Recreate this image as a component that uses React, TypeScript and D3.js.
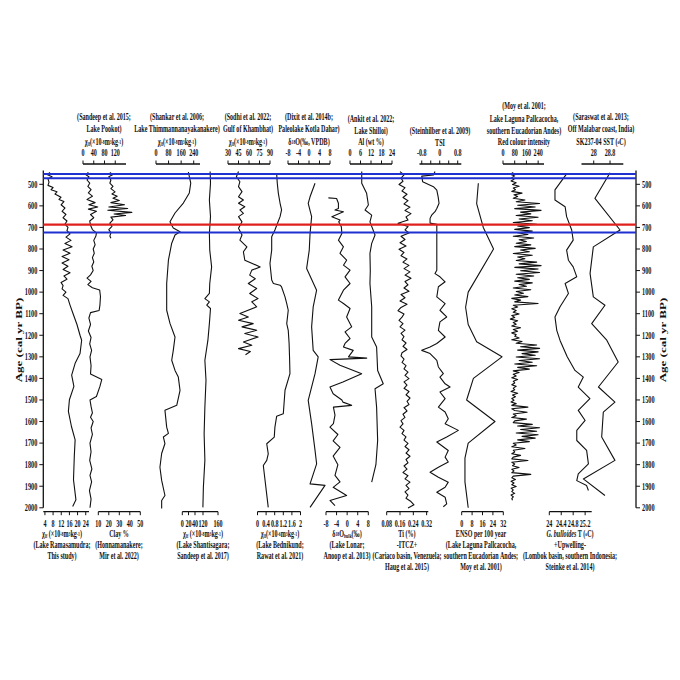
import React from 'react';
import * as d3 from 'd3';

const FONT = '"Liberation Serif", "Times New Roman", Times, serif';

type Pt = [number, number]; // [age cal yr BP, value]

const ageTicks = [500, 600, 700, 800, 900, 1000, 1100, 1200, 1300, 1400, 1500, 1600, 1700, 1800, 1900, 2000];
const blueEvents = [452, 472, 723];
const redEvents = [687];

// Lake Ramasamudra chi-lf (this study)
const ramasamudra: Pt[] = [
  [445, 6.5], [455, 5.0], [465, 7.5], [475, 5.5], [490, 6.0], [505, 5.5], [515, 8.0], [525, 7.0], [535, 9.9],
  [545, 8.9], [560, 11.9], [570, 10.9], [580, 13.3], [595, 11.9], [610, 13.8], [625, 12.4], [640, 14.3],
  [655, 12.9], [670, 14.8], [685, 13.8], [700, 15.3], [715, 14.8], [730, 16.3], [745, 14.3], [760, 16.8],
  [775, 13.8], [790, 17.3], [805, 12.9], [820, 16.3], [835, 12.4], [850, 15.8], [865, 12.4], [880, 15.3],
  [895, 12.9], [910, 16.3], [925, 13.3], [940, 14.8], [955, 11.9], [970, 12.9], [985, 12.4], [1000, 14.3],
  [1015, 12.9], [1030, 15.3], [1060, 16.3], [1100, 17.8], [1150, 19.7], [1200, 21.2], [1223, 22], [1285, 21.2],
  [1330, 18.8], [1385, 17.1], [1437, 18.2], [1499, 16], [1553, 15.5], [1623, 17], [1685, 18.8], [1760, 18.4],
  [1870, 18], [1963, 19.2], [1994, 17.6],
];

// Lake Pookot chi-lf (Sandeep et al. 2015)
const pookot: Pt[] = [
  [445, 20], [455, 10], [465, 22], [480, 15], [495, 25], [510, 18], [525, 30], [540, 20], [555, 35], [570, 15],
  [585, 45], [595, 22], [605, 55], [615, 20], [625, 50], [640, 28], [655, 40], [670, 25], [690, 28], [710, 35],
  [725, 50], [740, 48], [760, 40], [780, 45], [800, 38], [820, 42], [840, 35], [860, 40], [880, 33], [900, 38],
  [920, 28], [935, 15], [950, 30], [965, 18], [980, 35], [990, 62], [1020, 65], [1060, 63], [1085, 60],
  [1095, 28], [1120, 22], [1150, 28], [1180, 20], [1210, 30], [1240, 25], [1270, 32], [1300, 26], [1340, 30],
  [1380, 28], [1405, 70], [1437, 63], [1484, 50], [1500, 26], [1530, 30], [1560, 35], [1580, 28], [1600, 38],
  [1630, 30], [1660, 35], [1700, 26], [1740, 30], [1780, 25], [1820, 33], [1850, 26], [1880, 32], [1920, 24],
  [1960, 30], [2000, 26],
];

// Honnamanakere clay % (Mir et al. 2022)
const clay: Pt[] = [
  [445, 21], [455, 24], [465, 20], [480, 22], [495, 21], [510, 24], [520, 22], [535, 26], [545, 23], [555, 28],
  [565, 24], [575, 30], [585, 22], [595, 35], [605, 20], [612, 38], [620, 19], [630, 42], [638, 25], [645, 36],
  [652, 22], [665, 24], [680, 21], [695, 23], [710, 20], [725, 22], [740, 21], [750, 22],
];

// Lake Thimmannanayakanakere chi-lf (Shankar et al. 2006)
const shankar: Pt[] = [
  [443, 206], [495, 221], [540, 212], [587, 174], [633, 121], [674, 89], [690, 100], [703, 110], [720, 153],
  [735, 121], [773, 100], [852, 79], [960, 68], [1084, 68], [1145, 89], [1208, 121], [1270, 110], [1316, 100],
  [1363, 121], [1394, 142], [1456, 153], [1525, 132], [1548, 57], [1626, 68], [1655, 79], [1672, 47],
  [1702, 57], [1748, 36], [1812, 25], [1873, 36], [1943, 57], [1966, 36], [2003, 36],
];

// Lake Shantisagara chi-lf (Sandeep et al. 2017)
const shantisagara: Pt[] = [
  [441, 139], [495, 140], [573, 137], [650, 140], [728, 137], [805, 138], [883, 143], [960, 138], [1006, 137],
  [1030, 125], [1045, 137], [1060, 130], [1076, 140], [1146, 137], [1224, 133], [1316, 125], [1409, 128],
  [1533, 125], [1657, 123], [1780, 125], [1905, 121], [1998, 119],
];

// Gulf of Khambhat chi-lf (Sodhi et al. 2022)
const sodhi: Pt[] = [
  [441, 45], [465, 42], [488, 47], [511, 45], [534, 50], [558, 45], [573, 52], [588, 45], [604, 54], [619, 47],
  [635, 52], [650, 45], [674, 50], [704, 45], [735, 50], [759, 47], [790, 57], [813, 52], [852, 54], [883, 76],
  [898, 64], [921, 61], [938, 69], [960, 59], [983, 71], [1006, 61], [1030, 73], [1045, 64], [1068, 71],
  [1099, 47], [1115, 59], [1130, 45], [1146, 66], [1161, 50], [1177, 71], [1192, 54], [1208, 73], [1231, 52],
  [1246, 64], [1262, 45], [1275, 62], [1290, 55],
];

// Lake Bednikund chi-lf (Rawat et al. 2021)
const bednikund: Pt[] = [
  [449, 0.89], [495, 0.92], [542, 0.97], [588, 1.05], [619, 1.12], [650, 1.05], [712, 0.81], [743, 0.66],
  [805, 0.66], [867, 0.58], [944, 0.66], [960, 0.74], [968, 1.05], [976, 1.12], [1022, 1.28], [1053, 1.36],
  [1084, 1.43], [1146, 1.36], [1177, 1.43], [1238, 1.47], [1300, 1.49], [1378, 1.51], [1455, 1.28],
  [1564, 1.2], [1576, 0.89], [1626, 0.81], [1672, 0.78], [1703, 0.43], [1750, 0.5], [1780, 0.43],
  [1804, 0.27], [1998, 0.5],
];

// Paleolake Kotla Dahar d18O (Dixit et al. 2014b)
const dixit: Pt[] = [
  [495, 2.3], [558, 0.4], [588, -0.3], [650, 1.0], [728, 0.4], [805, 0.1], [890, -0.9], [991, 2.9], [1068, 1.6],
  [1161, 1.0], [1270, 1.6], [1300, 3.5], [1378, 2.3], [1502, -0.3], [1610, 1.0], [1734, 2.3], [1796, 2.9],
  [1889, 0.4], [1896, 6.1], [1998, 0.4],
];

// Lake Lonar d18O bulk (Anoop et al. 2013)
const lonar: Pt[] = [
  [563, -7.1], [566, -4.0], [588, -3.3], [612, -3.3], [619, -4.6], [627, -1.4], [650, -5.8], [666, -2.7],
  [674, -3.2], [697, -2.2], [728, -2.0], [759, -3.3], [790, -1.4], [820, -2.7], [852, -0.2], [875, -1.4],
  [898, 1.1], [929, -0.8], [960, 1.1], [991, -1.4], [1037, -3.3], [1053, -1.4], [1076, 1.1], [1115, -0.2],
  [1161, 1.7], [1184, -0.8], [1215, 1.1], [1238, -0.8], [1254, -1.4], [1270, 2.3], [1300, 0.5], [1306, 7.4],
  [1313, -6.5], [1339, -2.7], [1378, 5.5], [1417, -1.6], [1440, -6.5], [1471, -5.3], [1500, -2.0], [1510, -1.6],
  [1525, 1.7], [1533, -5.2], [1570, -4.6], [1610, -5.2], [1626, -6.5], [1660, -3.5], [1690, -5.3], [1720, -2.7],
  [1760, -5.3], [1800, -3.5], [1850, -4.6], [1880, -2.7], [1905, -5.3], [1943, -0.2], [1966, -6.5], [1990, -4.6],
];

// Lake Shilloi Al wt% (Ankit et al. 2022)
const ankit: Pt[] = [
  [441, 6.7], [495, 6.7], [542, 9.5], [596, 10.5], [619, 8.6], [643, 12.4], [674, 11.4], [735, 14.3], [774, 12.4],
  [820, 11.4], [900, 11.6], [960, 11.4], [1068, 12.4], [1208, 12.4], [1254, 15.2], [1363, 15.8], [1425, 19.0],
  [1448, 14.3], [1533, 15.2], [1688, 15.8], [1800, 14.8], [1881, 12.4],
];

// Cariaco basin Ti % (Haug et al.), evenly sampled
const cariacoStart = 441;
const cariacoStep = 15;
const cariacoTi = [
  0.16, 0.184, 0.166, 0.178, 0.154, 0.19, 0.172, 0.202, 0.178, 0.208, 0.184, 0.22, 0.19, 0.226, 0.196, 0.208,
  0.148, 0.208, 0.19, 0.214, 0.166, 0.19, 0.16, 0.196, 0.154, 0.184, 0.166, 0.202, 0.178, 0.214, 0.184, 0.22,
  0.19, 0.226, 0.19, 0.208, 0.184, 0.214, 0.166, 0.19, 0.16, 0.202, 0.166, 0.148, 0.184, 0.172, 0.154, 0.178,
  0.16, 0.19, 0.166, 0.184, 0.172, 0.196, 0.178, 0.202, 0.172, 0.166, 0.184, 0.172, 0.196, 0.184, 0.208, 0.19,
  0.214, 0.184, 0.202, 0.184, 0.214, 0.196, 0.22, 0.202, 0.214, 0.184, 0.202, 0.178, 0.19, 0.166, 0.178, 0.16,
  0.184, 0.172, 0.196, 0.184, 0.208, 0.19, 0.214, 0.196, 0.22, 0.196, 0.208, 0.184, 0.202, 0.178, 0.208, 0.19,
  0.22, 0.196, 0.214, 0.19, 0.208, 0.196, 0.226, 0.244, 0.208,
];

// TSI (Steinhilber et al. 2009)
const tsi: Pt[] = [
  [441, -0.21], [457, -0.28], [462, -0.8], [488, -0.76], [511, -0.28], [527, -0.13], [558, -0.07], [588, -0.03],
  [612, -0.13], [627, -0.21], [643, -0.36], [658, -0.43], [680, -0.43], [686, -0.13], [697, -0.13], [898, -0.13],
  [914, -0.21], [929, 0.01], [952, 0.24], [975, -0.06], [1022, -0.13], [1053, 0.24], [1084, 0.01], [1115, 0.31],
  [1138, 0.01], [1177, -0.06], [1208, 0.24], [1238, -0.13], [1254, -0.43], [1270, -0.8], [1285, -0.43],
  [1316, -0.13], [1347, -0.06], [1378, 0.16], [1394, 0.01], [1425, 0.24], [1440, 0.46], [1463, 0.01],
  [1494, 0.24], [1533, -0.06], [1556, 0.24], [1587, 0.38], [1610, 0.24], [1641, 0.83], [1672, 0.31],
  [1695, -0.13], [1734, 0.38], [1765, 0.24], [1788, 0.38], [1812, -0.06], [1835, -0.43], [1858, -0.06],
  [1881, 0.38], [1905, 0.24], [1928, -0.13], [1951, 0.24], [1982, 0.31], [1995, 0.16],
];

// ENSO events per 100 yr (Moy et al. 2001)
const enso: Pt[] = [
  [495, 12.8], [590, 11.5], [700, 16.6], [800, 24.5], [1000, 5], [1070, 3], [1150, 5], [1230, 11.5], [1300, 31],
  [1400, 9], [1500, 3.8], [1600, 25.6], [1700, 5], [1770, 2.5], [1880, 2.5], [2000, 5],
];

// Laguna Pallcacocha red colour intensity (Moy et al. 2001), evenly sampled
const moyStart = 445;
const moyStep = 8;
const moyRed = [
  70, 50, 80, 60, 75, 55, 90, 65, 110, 70, 85, 60, 130, 75, 100, 70, 150,
  90, 250, 100, 220, 80, 260, 120, 190, 90, 240, 110, 200, 70, 230, 100, 180,
  80, 200, 100, 170, 70, 210, 110, 160, 90, 190, 80, 220, 120, 180, 70, 200, 100, 150, 90, 230, 110, 260,
  80, 240, 120, 250, 90, 210, 100, 180, 80, 200, 110, 160, 70, 190, 90, 140, 80, 170, 60, 120,
  80, 240, 70, 100, 60, 90, 70, 110, 60, 80, 50, 100, 70, 90, 60, 120, 70, 100, 60, 90, 80, 110, 60, 130,
  90, 230, 120, 250, 100, 240, 130, 220, 90, 250, 110, 200, 80, 230, 100, 180, 70,
  110, 70, 90, 60, 100, 70, 80, 60, 90, 70, 80, 55, 100, 65, 85, 60, 75, 55, 90, 60,
  170, 60, 80, 165, 70, 90, 60, 160, 80, 70,
  200, 100, 250, 120, 230, 90, 240, 130, 220, 100, 180,
  70, 90, 60, 150, 70, 80, 60, 120, 70, 60, 170, 60, 80, 65, 110, 60, 75, 60, 190,
  70, 60, 85, 55, 75, 60, 90, 55, 70, 60, 80, 55, 70, 60, 65,
];

// Lombok basin G. bulloides temperature (Steinke et al. 2014)
const lombok: Pt[] = [
  [452, 24.58], [526, 24.19], [573, 24.19], [604, 24.53], [650, 24.58], [712, 24.75], [759, 24.8], [805, 24.58],
  [852, 24.64], [883, 24.8], [929, 24.92], [960, 24.53], [1006, 24.64], [1068, 24.36], [1115, 24.19],
  [1177, 24.25], [1224, 24.36], [1300, 24.6], [1363, 24.86], [1394, 25.14], [1440, 24.97], [1494, 25.36],
  [1548, 24.97], [1595, 25.2], [1641, 24.92], [1688, 24.92], [1734, 25.25], [1796, 25.31], [1843, 24.97],
  [1874, 24.92], [1897, 25.25], [1920, 25.31],
];

// SK237-04 SST (Saraswat et al. 2013)
const saraswat: Pt[] = [
  [446, 28.8], [565, 28.06], [712, 29.29], [790, 27.98], [913, 27.82], [1022, 27.98], [1061, 28.55],
  [1146, 27.9], [1223, 28.64], [1324, 29.2], [1440, 28.23], [1510, 29.04], [1556, 28.47], [1672, 28.39],
  [1780, 29.04], [1866, 27.49], [1943, 28.55],
];

const evenly = (start: number, step: number, vals: number[]): Pt[] => vals.map((v, i) => [start + i * step, v]);

const y = d3.scaleLinear().domain([500, 2000]).range([184.3, 507.8]);

type Panel = {
  data: Pt[];
  scale: d3.ScaleLinear<number, number>;
  side: 'top' | 'bottom';
  ticks: number[];
  labels: number[];
};

const panels: Panel[] = [
  { data: ramasamudra, scale: d3.scaleLinear().domain([3.2, 25.6]).range([43.3, 89]), side: 'bottom', ticks: [4, 8, 12, 16, 20, 24], labels: [4, 8, 12, 16, 20, 24] },
  { data: pookot, scale: d3.scaleLinear().domain([0, 160]).range([83, 126]), side: 'top', ticks: [0, 40, 80, 120], labels: [0, 40, 80, 120] },
  { data: clay, scale: d3.scaleLinear().domain([10, 50]).range([98.3, 140.3]), side: 'bottom', ticks: [10, 20, 30, 40, 50], labels: [10, 20, 30, 40, 50] },
  { data: shankar, scale: d3.scaleLinear().domain([0, 280]).range([156, 200]), side: 'top', ticks: [0, 80, 160, 240], labels: [0, 80, 160, 240] },
  { data: shantisagara, scale: d3.scaleLinear().domain([0, 20, 40, 120, 160]).range([182.3, 188.5, 195, 203, 218]), side: 'bottom', ticks: [0, 20, 40, 120, 160], labels: [0, 20, 40, 120, 160] },
  { data: sodhi, scale: d3.scaleLinear().domain([30, 90]).range([228, 270]), side: 'top', ticks: [30, 45, 60, 75, 90], labels: [30, 45, 60, 75, 90] },
  { data: bednikund, scale: d3.scaleLinear().domain([0, 2]).range([257.5, 300.5]), side: 'bottom', ticks: [0, 0.4, 0.8, 1.2, 1.6, 2], labels: [0, 0.4, 0.8, 1.2, 1.6, 2] },
  { data: dixit, scale: d3.scaleLinear().domain([-8, 8]).range([288, 330]), side: 'top', ticks: [-8, -4, 0, 4, 8], labels: [-8, -4, 0, 4, 8] },
  { data: lonar, scale: d3.scaleLinear().domain([-8, 8]).range([326, 368.3]), side: 'bottom', ticks: [-8, -4, 0, 4, 8], labels: [-8, -4, 0, 4, 8] },
  { data: ankit, scale: d3.scaleLinear().domain([0, 24]).range([350, 392]), side: 'top', ticks: [0, 6, 12, 18, 24], labels: [0, 6, 12, 18, 24] },
  { data: evenly(cariacoStart, cariacoStep, cariacoTi), scale: d3.scaleLinear().domain([0.08, 0.33]).range([386.7, 428.3]), side: 'bottom', ticks: [0.08, 0.16, 0.24, 0.32], labels: [0.08, 0.16, 0.24, 0.32] },
  { data: tsi, scale: d3.scaleLinear().domain([-0.9, 0.96]).range([419.5, 461.3]), side: 'top', ticks: [-0.8, -0.4, 0, 0.4, 0.8], labels: [-0.8, 0, 0.8] },
  { data: enso, scale: d3.scaleLinear().domain([0, 32]).range([461.7, 503.3]), side: 'bottom', ticks: [0, 8, 16, 24, 32], labels: [0, 8, 16, 24, 32] },
  { data: evenly(moyStart, moyStep, moyRed), scale: d3.scaleLinear().domain([0, 280]).range([503, 544]), side: 'top', ticks: [0, 80, 160, 240], labels: [0, 80, 160, 240] },
  { data: lombok, scale: d3.scaleLinear().domain([24, 25.42]).range([549.3, 591.7]), side: 'bottom', ticks: [24, 24.4, 24.8, 25.2], labels: [24, 24.4, 24.8, 25.2] },
  { data: saraswat, scale: d3.scaleLinear().domain([27.4, 29.45]).range([581.5, 623.3]), side: 'top', ticks: [28, 28.8], labels: [28, 28.8] },
];

const TOP_AXIS = 164;
const BOT_AXIS = 511.7;
const LEFT_X = 43.3;
const RIGHT_X = 636;

// condensed bold serif text (the figure is squeezed horizontally)
const T = ({ x, y: yy, children, size = 10, anchor = 'middle', sx = 0.61 }: any) => (
  <text
    transform={`translate(${x},${yy}) scale(${sx},1)`}
    textAnchor={anchor}
    fontSize={size}
    fontWeight="bold"
    fontFamily={FONT}
    fill="#111"
  >
    {children}
  </text>
);

const Sup = ({ children }: any) => <tspan baselineShift="30%" fontSize="62%">{children}</tspan>;
const Sub = ({ children }: any) => <tspan baselineShift="-15%" fontSize="65%">{children}</tspan>;

const Chi = ({ sub = 'lf', exp = '-8', gap = '' }: any) => (
  <>
    χ<Sub>{sub}</Sub>{gap}(×10<Sup>{exp}</Sup>m<Sup>3</Sup>kg<Sup>-1</Sup>)
  </>
);

const topTitles: { x: number; rows: number[]; lines: React.ReactNode[] }[] = [
  { x: 104, rows: [117, 129, 141.5], lines: ['(Sandeep et al. 2015;', 'Lake Pookot)', <Chi />] },
  { x: 177, rows: [117, 129, 141.5], lines: ['(Shankar et al. 2006;', 'Lake Thimmannanayakanakere)', <Chi />] },
  { x: 248, rows: [117, 129, 141.5], lines: ['(Sodhi et al. 2022;', 'Gulf of Khambhat)', <Chi />] },
  { x: 309, rows: [117, 129, 141.5], lines: ['(Dixit et al. 2014b;', 'Paleolake Kotla Dahar)', <>δ<Sup>18</Sup>O(‰, VPDB)</>] },
  { x: 371, rows: [119, 131, 142], lines: ['(Ankit et al. 2022;', 'Lake Shilloi)', 'Al (wt %)'] },
  { x: 440, rows: [131, 142.5], lines: ['(Steinhilber et al. 2009)', 'TSI'] },
  { x: 524, rows: [106, 118.5, 130.5, 142], lines: ['(Moy et al. 2001;', 'Lake Laguna Pallcacocha,', 'southern Eucadorian Andes)', 'Red colour intensity'] },
  { x: 601, rows: [117, 129, 141.5], lines: ['(Saraswat et al. 2013;', 'Off Malabar coast, India)', <>SK237-04 SST (<Sup>o</Sup>C)</>] },
];

const botTitles: { x: number; lines: React.ReactNode[] }[] = [
  { x: 62, lines: [<Chi gap=" " />, '(Lake Ramasamudra;', 'This study)'] },
  { x: 119, lines: ['Clay %', '(Honnamanakere;', 'Mir et al. 2022)'] },
  { x: 203, lines: [<Chi gap=" " />, '(Lake Shantisagara;', 'Sandeep et al. 2017)'] },
  { x: 280, lines: [<Chi exp="-6" />, '(Lake Bednikund;', 'Rawat et al. 2021)'] },
  { x: 347, lines: [<>δ<Sup>18</Sup>O<Sub>bulk</Sub>(‰)</>, '(Lake Lonar;', 'Anoop et al. 2013)'] },
  { x: 407, lines: ['Ti (%)', '-ITCZ+', '(Cariaco basin, Venezuela;', 'Haug et al. 2015)'] },
  { x: 481, lines: ['ENSO per 100 year', '(Lake Laguna Pallcacocha,', 'southern Eucadorian Andes;', 'Moy et al. 2001)'] },
  { x: 570, lines: [<><tspan fontStyle="italic">G. bulloides</tspan> T (<Sup>o</Sup>C)</>, '+Upwelling-', '(Lombok basin, southern Indonesia;', 'Steinke et al. 2014)'] },
];
const botRows = [534, 545, 556, 567];

export default function App() {
  const yTop = y(436);
  const yBot = y(2000);
  return (
    <svg width={680} height={680} style={{ position: 'absolute', left: 0, top: 0, background: '#fff' }}>
      <rect width={680} height={680} fill="#fff" />

      {/* age axes */}
      <line x1={LEFT_X} x2={LEFT_X} y1={yTop} y2={yBot} stroke="#111" strokeWidth={1.3} />
      <line x1={RIGHT_X} x2={RIGHT_X} y1={yTop} y2={yBot} stroke="#111" strokeWidth={1.3} />
      {ageTicks.map((a) => (
        <g key={a}>
          <line x1={LEFT_X - 4} x2={LEFT_X} y1={y(a)} y2={y(a)} stroke="#111" strokeWidth={1} />
          <line x1={RIGHT_X} x2={RIGHT_X + 4} y1={y(a)} y2={y(a)} stroke="#111" strokeWidth={1} />
          <T x={LEFT_X - 6} y={y(a) + 3.3} anchor="end" size={9.5} sx={0.66}>{a}</T>
          <T x={RIGHT_X + 6} y={y(a) + 3.3} anchor="start" size={9.5} sx={0.66}>{a}</T>
        </g>
      ))}
      <text transform={`translate(22,340) scale(0.7,1) rotate(-90)`} textAnchor="middle" fontSize={13} fontWeight="bold" fontFamily={FONT} fill="#111">Age (cal yr BP)</text>
      <text transform={`translate(666,340) scale(0.7,1) rotate(-90)`} textAnchor="middle" fontSize={13} fontWeight="bold" fontFamily={FONT} fill="#111">Age (cal yr BP)</text>

      {/* curves */}
      {panels.map((p, i) => {
        const line = d3.line<Pt>().x((d) => p.scale(d[1])).y((d) => y(d[0]));
        return <path key={i} d={line(p.data) || ''} fill="none" stroke="#111" strokeWidth={1.1} strokeLinejoin="round" />;
      })}

      {/* value axes */}
      {panels.map((p, i) => {
        const r = p.scale.range();
        const r0 = r[0];
        const r1 = r[r.length - 1];
        const ay = p.side === 'top' ? TOP_AXIS : BOT_AXIS;
        const dir = p.side === 'top' ? -1 : 1;
        return (
          <g key={`ax${i}`}>
            <line x1={r0} x2={r1} y1={ay} y2={ay} stroke="#111" strokeWidth={1.3} />
            {p.ticks.map((t) => (
              <line key={t} x1={p.scale(t)} x2={p.scale(t)} y1={ay} y2={ay + dir * 3.5} stroke="#111" strokeWidth={1} />
            ))}
            {p.labels.map((t) => (
              <T key={t} x={p.scale(t)} y={p.side === 'top' ? 156 : 526.5} size={9.5} sx={0.64}>{String(t)}</T>
            ))}
          </g>
        );
      })}

      {/* titles */}
      {topTitles.map((t, i) => (
        <g key={`tt${i}`}>
          {t.lines.map((l, j) => (
            <T key={j} x={t.x} y={t.rows[j] + 3.4}>{l}</T>
          ))}
        </g>
      ))}
      {botTitles.map((t, i) => (
        <g key={`bt${i}`}>
          {t.lines.map((l, j) => (
            <T key={j} x={t.x} y={botRows[j] + 3.2} size={9.5} sx={0.64}>{l}</T>
          ))}
        </g>
      ))}

      {/* event lines */}
      {blueEvents.map((a) => (
        <line key={`b${a}`} x1={LEFT_X} x2={RIGHT_X} y1={y(a)} y2={y(a)} stroke="#1f2fd0" strokeWidth={2} />
      ))}
      {redEvents.map((a) => (
        <line key={`r${a}`} x1={LEFT_X} x2={RIGHT_X} y1={y(a)} y2={y(a)} stroke="#e0201c" strokeWidth={2.4} />
      ))}
    </svg>
  );
}
